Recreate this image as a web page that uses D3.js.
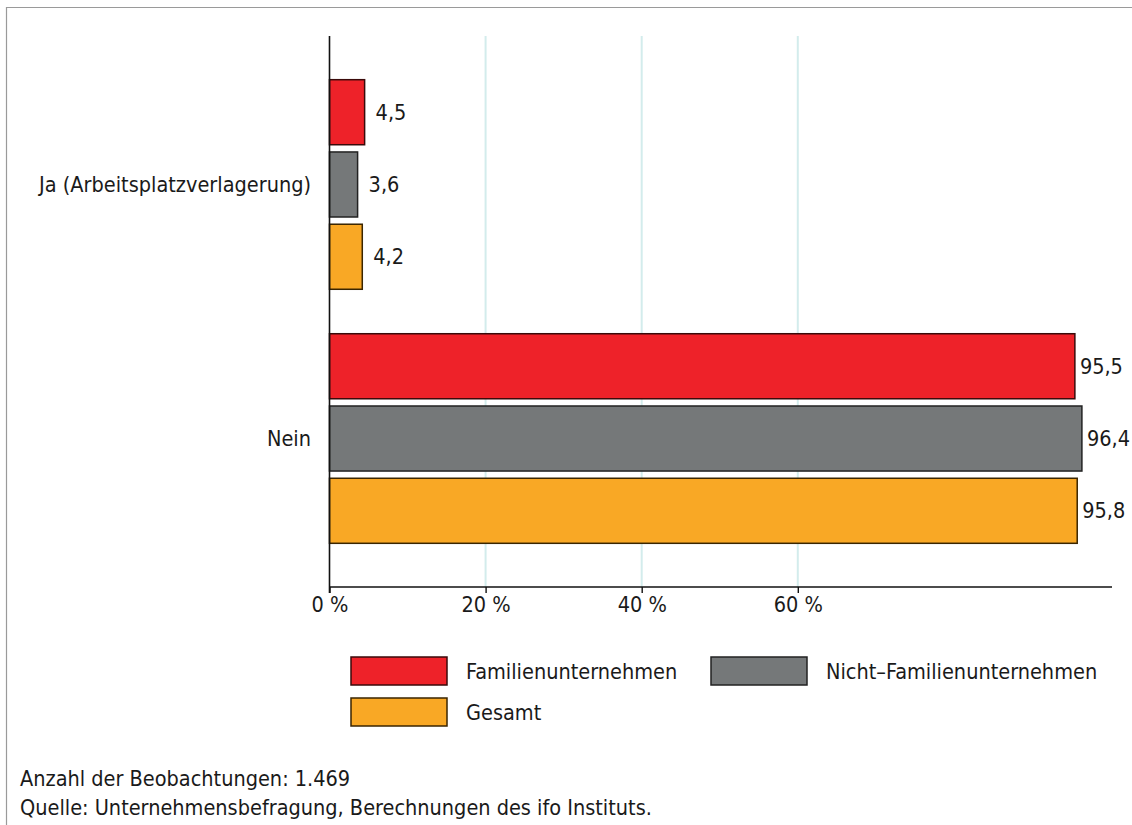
<!DOCTYPE html>
<html><head><meta charset="utf-8">
<script src="https://cdn.jsdelivr.net/npm/d3@7"></script>
<style>
body{margin:0;background:#fff;}
text{font-family:"Liberation Sans Narrow","DejaVu Sans Condensed","Open Sans",sans-serif;fill:#1a1a1a;}
</style></head><body>
<svg id="c" width="1132" height="825"></svg>
<script>
const categories = ["Ja (Arbeitsplatzverlagerung)", "Nein"];
const seriesNames = ["Familienunternehmen", "Nicht\u2013Familienunternehmen", "Gesamt"];
const familien = [4.5, 95.5];
const nichtFamilien = [3.6, 96.4];
const gesamt = [4.2, 95.8];
const tickValues = [0, 20, 40, 60];
const tickLabels = ["0 %", "20 %", "40 %", "60 %"];
const footnotes = ["Anzahl der Beobachtungen: 1.469", "Quelle: Unternehmensbefragung, Berechnungen des ifo Instituts."];

const seriesValues = [familien, nichtFamilien, gesamt];
const colors = ["#ee2229", "#757879", "#f9a825"];
const strokes = ["#3a0a0a", "#222222", "#3a2500"];

const svg = d3.select("#c");
const fs = 21.5;

// frame
svg.append("path").attr("d","M6.5,825 V7.5 H1132").attr("fill","none").attr("stroke","#9a9a9a").attr("stroke-width",1.2);

const x = d3.scaleLinear().domain([0,100]).range([329.5,1110]);
const y0 = d3.scaleBand().domain(categories).range([36,587]).paddingInner(0.175).paddingOuter(0.172);
const y1 = d3.scaleBand().domain(d3.range(seriesNames.length)).range([0,y0.bandwidth()]).paddingInner(0.1).paddingOuter(0);

// gridlines
svg.append("g").selectAll("line").data(tickValues.filter(d=>d>0)).join("line")
  .attr("x1",d=>x(d)).attr("x2",d=>x(d)).attr("y1",36).attr("y2",587)
  .attr("stroke","#d3ecec").attr("stroke-width",2);

// bars
const rows = [];
categories.forEach((c,ci)=>seriesValues.forEach((vals,si)=>rows.push({c,si,v:vals[ci]})));
svg.append("g").selectAll("rect").data(rows).join("rect")
  .attr("x",x(0)).attr("y",d=>y0(d.c)+y1(d.si))
  .attr("width",d=>x(d.v)-x(0)).attr("height",y1.bandwidth())
  .attr("fill",d=>colors[d.si]).attr("stroke",d=>strokes[d.si]).attr("stroke-width",1.5);

// value labels
svg.append("g").selectAll("text").data(rows).join("text")
  .attr("x",d=>x(d.v)+(d.v<50?11:5)).attr("y",d=>y0(d.c)+y1(d.si)+y1.bandwidth()/2)
  .attr("dy","0.35em").attr("font-size",fs)
  .text(d=>d3.format(".1f")(d.v).replace(".",","));

// x axis
const xAxis = d3.axisBottom(x).tickValues(tickValues).tickFormat((d,i)=>tickLabels[i]).tickSize(6).tickPadding(4);
const gx = svg.append("g").attr("transform","translate(0,587)").call(xAxis);
gx.select(".domain").attr("d",`M${x(0)},0H1112`).attr("stroke","#111").attr("stroke-width",1.6);
gx.selectAll(".tick line").attr("stroke","#111").attr("stroke-width",1.4);
gx.selectAll(".tick text").attr("font-size",fs).attr("font-family",null).attr("fill","#1a1a1a");

// y axis line
svg.append("line").attr("x1",x(0)).attr("x2",x(0)).attr("y1",36).attr("y2",593).attr("stroke","#111").attr("stroke-width",1.6);

// category labels
svg.append("g").selectAll("text").data(categories).join("text")
  .attr("x",311).attr("y",d=>y0(d)+y0.bandwidth()/2).attr("dy","0.35em")
  .attr("text-anchor","end").attr("font-size",fs).text(d=>d);

// legend
const legendPos = [[351,657],[711,657],[351,698]];
const lg = svg.append("g").selectAll("g").data(seriesNames).join("g")
  .attr("transform",(d,i)=>`translate(${legendPos[i][0]},${legendPos[i][1]})`);
lg.append("rect").attr("width",96).attr("height",28)
  .attr("fill",(d,i)=>colors[i]).attr("stroke",(d,i)=>strokes[i]).attr("stroke-width",1.5);
lg.append("text").attr("x",115).attr("y",14).attr("dy","0.35em").attr("font-size",fs).text(d=>d);

// footnotes
svg.append("g").selectAll("text").data(footnotes).join("text")
  .attr("x",20).attr("y",(d,i)=>778+i*29).attr("dy","0.35em").attr("font-size",fs).text(d=>d);
</script></body></html>
